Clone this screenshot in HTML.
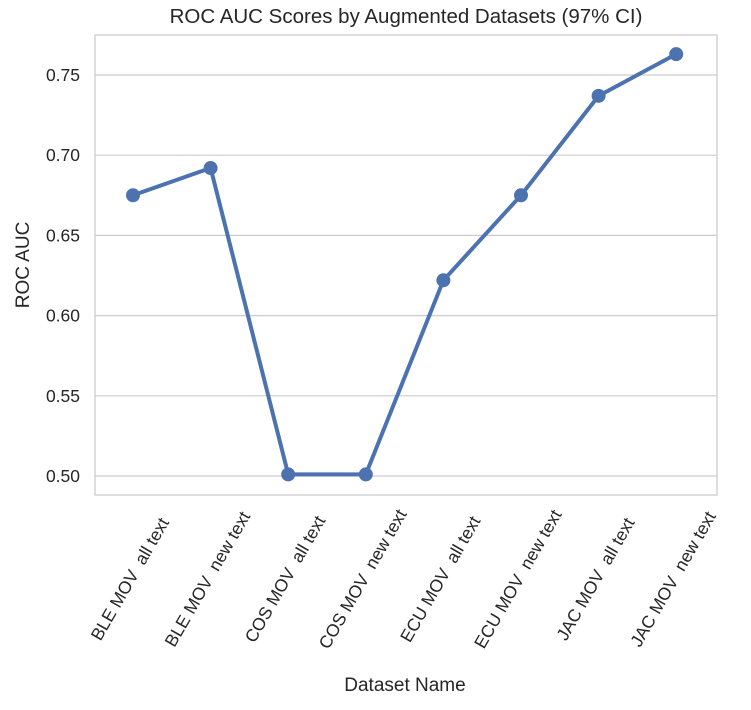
<!DOCTYPE html>
<html><head><meta charset="utf-8"><style>
body{margin:0;background:#fff;}
text{font-family:"Liberation Sans",sans-serif;fill:#262626;}
</style></head><body>
<svg id="chart" width="751" height="705" xmlns="http://www.w3.org/2000/svg">
<text x="406" y="23" text-anchor="middle" font-size="20.5">ROC AUC Scores by Augmented Datasets (97% CI)</text>
<g id="grid"></g>
<rect x="95" y="35" width="622" height="460" fill="none" stroke="#cccccc" stroke-width="1.3"/>
<g id="yticks"></g>
<g id="xticks"></g>
<g id="series"></g>
<text transform="translate(29,265) rotate(-90)" text-anchor="middle" font-size="19">ROC AUC</text>
<text x="405" y="691" text-anchor="middle" font-size="19">Dataset Name</text>
</svg>
<script>
const categories=["BLE MOV  all text","BLE MOV  new text","COS MOV  all text","COS MOV  new text","ECU MOV  all text","ECU MOV  new text","JAC MOV  all text","JAC MOV  new text"];
const values=[0.675,0.692,0.501,0.501,0.622,0.675,0.737,0.763];
const yTicks=[0.50,0.55,0.60,0.65,0.70,0.75];
const NS="http://www.w3.org/2000/svg";
function yScale(v){return 476-(v-0.50)/0.05*80.2;}
function xScale(i){return 133+i*77.6;}
function mk(tag,attrs,parent){const e=document.createElementNS(NS,tag);for(const k in attrs)e.setAttribute(k,attrs[k]);parent.appendChild(e);return e;}
const grid=document.getElementById('grid'),yt=document.getElementById('yticks'),xt=document.getElementById('xticks'),ser=document.getElementById('series');
yTicks.forEach(t=>{
 const l=mk('line',{x1:95,x2:717,y1:yScale(t),y2:yScale(t),stroke:'#cccccc','stroke-width':1.2},grid);
 
 
 const tx=mk('text',{x:80,y:yScale(t)+6,'text-anchor':'end','font-size':17.5},yt);
 tx.textContent=t.toFixed(2);
 
 
});
categories.forEach((c,i)=>{
 const cx=xScale(i)+2,cy=582;
 const tx=mk('text',{x:cx,y:cy,'text-anchor':'middle','font-size':17.5,transform:`rotate(-60 ${cx} ${cy})`},xt);
 tx.style.whiteSpace='pre';
 tx.textContent=c;
 
 
});
const pts=values.map((v,i)=>xScale(i)+','+yScale(v)).join(' ');
const pl=mk('polyline',{points:pts,fill:'none',stroke:'#4c72b0','stroke-width':4,'stroke-linejoin':'round'},ser);


values.forEach((v,i)=>{
 const c=mk('circle',{cx:xScale(i),cy:yScale(v),r:7,fill:'#4c72b0'},ser);
 
 
});
</script>
</body></html>
